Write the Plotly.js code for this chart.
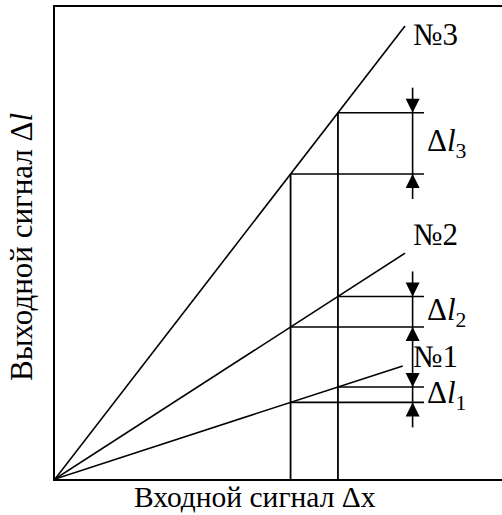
<!DOCTYPE html>
<html>
<head>
<meta charset="utf-8">
<script src="https://cdn.plot.ly/plotly-3.0.1.min.js"></script>
<style>html,body{margin:0;padding:0;background:#fff;}#chart{width:502px;height:515px;}</style>
</head>
<body>
<div id="chart"></div>
<script>
// ---- data (axis units 0..10) ----
const curveNames = ['№1', '№2', '№3'];
const gains = [0.308, 0.611, 1.226];          // slope of each characteristic
const curveEndX = [7.78, 7.83, 7.83];         // input where each line stops
const inputLevels = [5.27, 6.33];             // the two input values
const deltaLabels = ['Δ<i>l</i><sub>1</sub>', 'Δ<i>l</i><sub>2</sub>', 'Δ<i>l</i><sub>3</sub>'];
const guideEndX = 8.255;                      // right end of the horizontal guides
const arrowX = 8.0;                           // x of the dimension arrows
const arrowExt = 0.53;                        // arrow tail length
const xTitle = 'Входной сигнал Δx';
const yTitle = 'Выходной сигнал Δ<i>l</i>';

const FONT = '"Liberation Serif", "Times New Roman", "DejaVu Serif", serif';
const black = '#000';

const traces = [];
const seg = (x, y, w) => traces.push({x: x, y: y, mode: 'lines',
  line: {color: black, width: w}, showlegend: false, hoverinfo: 'skip'});

// characteristic lines
gains.forEach((k, i) => seg([0, curveEndX[i]], [0, k * curveEndX[i]], 1.6));
// vertical lines at the two input levels, up to the steepest line
inputLevels.forEach(x0 => seg([x0, x0], [0, gains[2] * x0], 1.8));
// horizontal guides from each intersection to the dimension column
gains.forEach(k => inputLevels.forEach(x0 => seg([x0, guideEndX], [k * x0, k * x0], 1.6)));

// dimension column lines
const lows = gains.map(k => k * inputLevels[0]);
const highs = gains.map(k => k * inputLevels[1]);
seg([arrowX, arrowX], [highs[2] + arrowExt, lows[2] - arrowExt], 1.6);
seg([arrowX, arrowX], [highs[1] + arrowExt, lows[0] - arrowExt], 1.6);

// arrow heads (tip exactly at each guide)
traces.push({x: highs.map(() => arrowX), y: highs, mode: 'markers', cliponaxis: false,
  marker: {symbol: 'arrow-down', size: 14, color: black, line: {width: 0}},
  showlegend: false, hoverinfo: 'skip'});
traces.push({x: lows.map(() => arrowX), y: lows, mode: 'markers', cliponaxis: false,
  marker: {symbol: 'arrow-up', size: 14, color: black, line: {width: 0}},
  showlegend: false, hoverinfo: 'skip'});

const annotations = [];
// delta labels
gains.forEach((k, i) => {
  annotations.push({xref: 'x', yref: 'y', x: arrowX + 0.28, y: (highs[i] + lows[i]) / 2,
    xanchor: 'left', yanchor: 'middle', showarrow: false, text: deltaLabels[i],
    font: {family: FONT, size: 31, color: black}});
});
// curve name labels
const nameY = [2.6, 5.17, 9.42];
curveNames.forEach((n, i) => {
  annotations.push({xref: 'x', yref: 'y', x: arrowX - 0.04, y: nameY[i],
    xanchor: 'left', yanchor: 'middle', showarrow: false, text: n,
    font: {family: FONT, size: 31, color: black}});
});
// axis titles
annotations.push({xref: 'paper', yref: 'paper', x: 0, y: 0, xshift: 200, yshift: -36,
  xanchor: 'center', yanchor: 'bottom', showarrow: false, text: xTitle,
  font: {family: FONT, size: 29.5, color: black}});
annotations.push({xref: 'paper', yref: 'paper', x: 0, y: 0.5, xshift: -34, yshift: -4,
  xanchor: 'center', yanchor: 'middle', textangle: -90, showarrow: false, text: yTitle,
  font: {family: FONT, size: 31, color: black}});

const layout = {
  width: 502, height: 515,
  margin: {l: 55, r: 0, t: 7, b: 36, pad: 0},
  paper_bgcolor: '#fff', plot_bgcolor: '#fff',
  showlegend: false,
  font: {family: FONT, size: 29, color: black},
  xaxis: {range: [0, 10], showline: true, linecolor: black, linewidth: 2, mirror: true,
    showgrid: false, zeroline: false, ticks: '', showticklabels: false, fixedrange: true},
  yaxis: {range: [0, 10], showline: true, linecolor: black, linewidth: 2, mirror: false,
    showgrid: false, zeroline: false, ticks: '', showticklabels: false, fixedrange: true},
  annotations: annotations
};

Plotly.newPlot('chart', traces, layout, {staticPlot: true, displayModeBar: false});
</script>
</body>
</html>
